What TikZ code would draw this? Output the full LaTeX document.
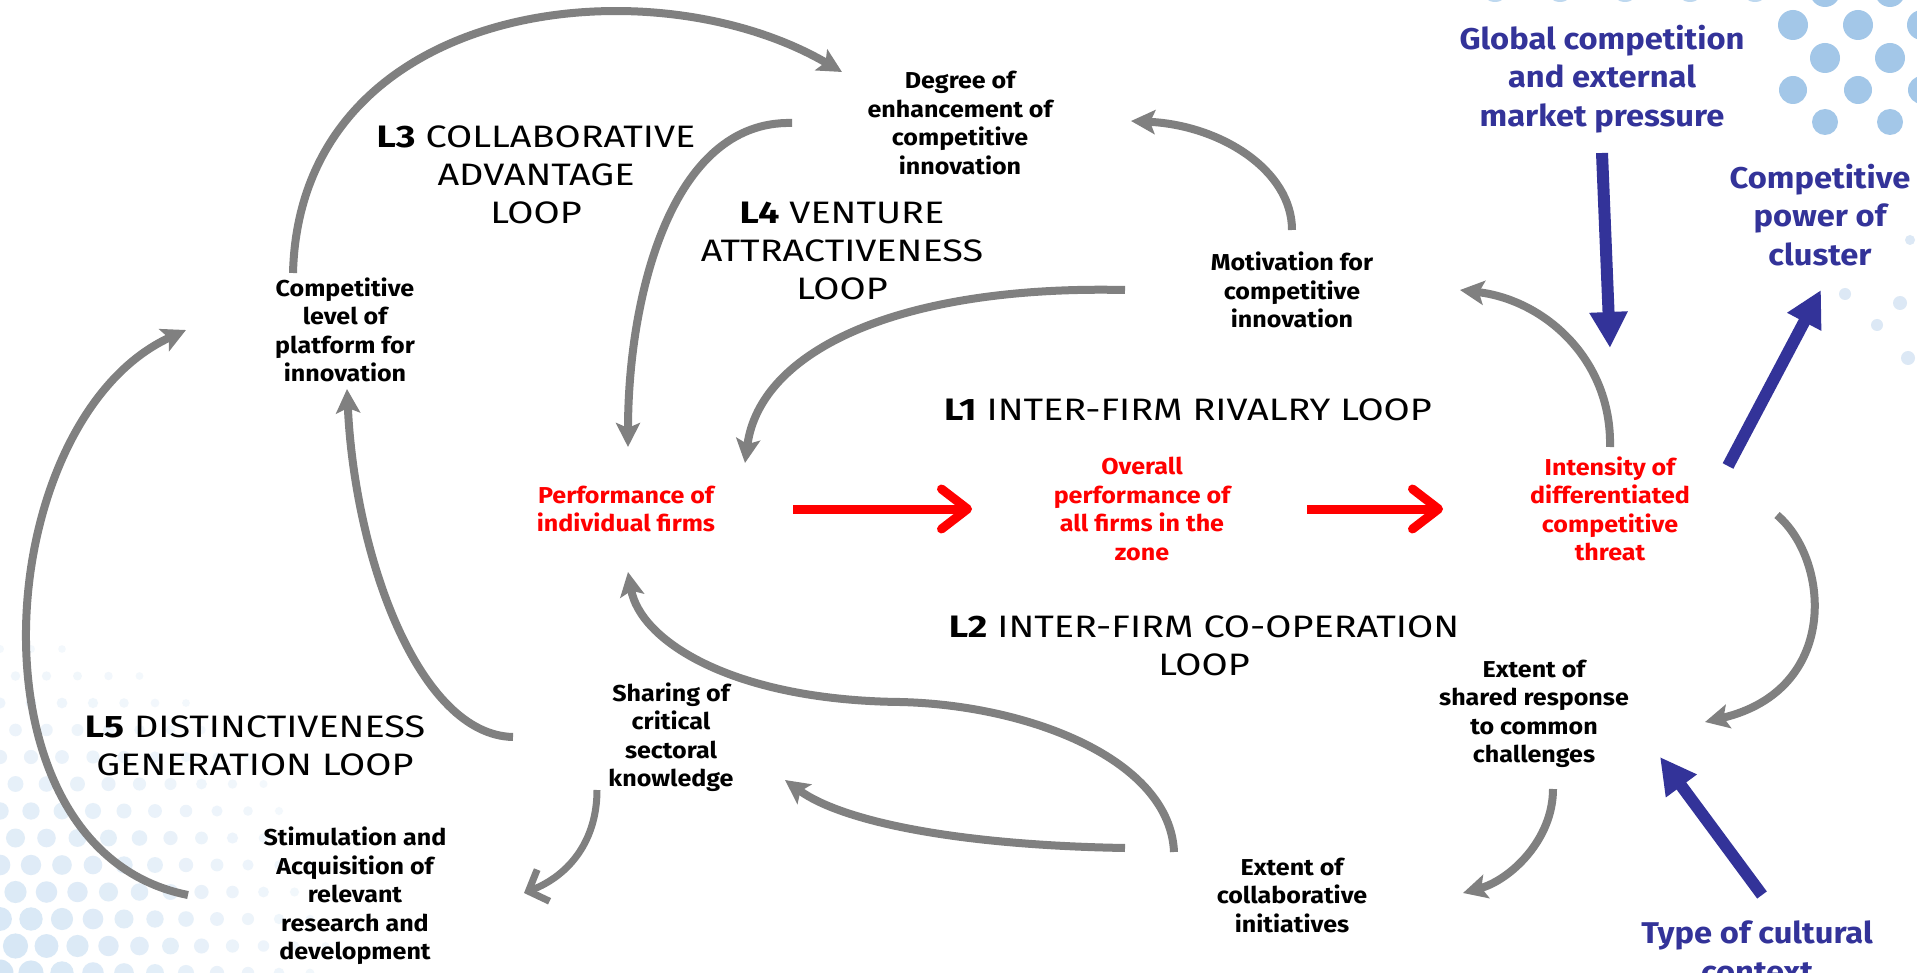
\documentclass[tikz,border=0pt]{standalone}
\usepackage{fontspec}
\setmainfont{Fira Sans}[FakeStretch=1.09]
\newfontfamily\loopfont{Fira Sans}[FakeStretch=1.22]
\usetikzlibrary{arrows.meta,calc}
\definecolor{arrgray}{HTML}{808080}
\definecolor{navy}{HTML}{333399}
\definecolor{dotblue}{HTML}{A3C7E8}
\definecolor{dotpale}{HTML}{DCE8F5}
\begin{document}
\begin{tikzpicture}[x=1pt,y=-1pt,
  var/.style={align=center,font=\fontsize{23}{28.5}\selectfont\bfseries,inner sep=0pt},
  redvar/.style={var,text=red},
  ext/.style={align=center,font=\fontsize{30}{38.5}\selectfont\bfseries,text=navy,inner sep=0pt},
  looplab/.style={align=center,font=\loopfont\fontsize{31}{38}\selectfont,inner sep=0pt},
  link/.style={draw=arrgray,line width=8pt,-{Stealth[length=24pt,width=24pt,inset=5pt]}},
  barblink/.style={draw=arrgray,line width=7pt,-{Straight Barb[length=16pt,width=34pt]}},
  redlink/.style={draw=red,line width=9pt,-{Straight Barb[length=26pt,width=40pt,round]}},
  navylink/.style={draw=navy,line width=12pt,-{Triangle[length=36pt,width=36pt]}},
]
\useasboundingbox (0,0) rectangle (1917,973);
\fill[white] (0,0) rectangle (1917,973);
% background dots
\begin{scope}
\clip (1777,0) rectangle (1917,137);
\foreach \x/\y/\r in {1825/-8/15,1890/-8/15,1793/25/15,1858/25/15,1922/25/15,
  1825/58/15,1890/58/15,1793/90/14,1858/90/14,1922/90/14,1825/122/13,1890/122/13}
  \fill[dotblue] (\x,\y) circle (\r pt);
\end{scope}
\foreach \x in {1495,1560,1625,1690,1755}
  \fill[dotblue!70!white] (\x,-12) circle (14pt);
\foreach \x/\y/\r in {1845/294/6,1900/303/7,1877/325/6,1908/358/7,1910/240/5}
  \fill[dotpale] (\x,\y) circle (\r pt);
\foreach \i in {0,...,12}{
  \foreach \j in {0,...,13}{
    \pgfmathsetmacro\xx{\i*31+mod(\j,2)*15.5}
    \pgfmathsetmacro\yy{973-\j*27}
    \pgfmathsetmacro\dd{veclen(\xx,\j*27)}
    \ifdim\dd pt<330pt
      \pgfmathsetmacro\rr{3.5+10*(1-\dd/340)}
      \pgfmathtruncatemacro\pp{12+35*(1-\dd/340)}
      \fill[dotblue!\pp!white] (\xx,\yy) circle (\rr pt);
    \fi
  }
}
% variables
\node[var] (deg) at (960,123) {Degree of\\enhancement of\\competitive\\innovation};
\node[var] (mot) at (1292,290) {Motivation for\\competitive\\innovation};
\node[var] (plat) at (345,330) {Competitive\\level of\\platform for\\innovation};
\node[redvar] (perf) at (626,509) {Performance of\\individual firms};
\node[redvar] (overall) at (1142,509) {Overall\\performance of\\all firms in the\\zone};
\node[redvar] (inten) at (1610,509) {Intensity of\\differentiated\\competitive\\threat};
\node[var] (shared) at (1534,714) {Extent of\\shared response\\to common\\challenges};
\node[var] (collab) at (1292,895) {Extent of\\collaborative\\initiatives};
\node[var] (share) at (671,737) {Sharing of\\critical\\sectoral\\knowledge};
\node[var] (stim) at (355,896) {Stimulation and\\Acquisition of\\relevant\\research and\\development};
% external factors
\node[ext] (glob) at (1602,79) {Global competition\\and external\\market pressure};
\node[ext] (power) at (1820,215) {Competitive\\power of\\cluster};
\node[ext] (cult) at (1757,952) {Type of cultural\\context};
% loop labels
\node[looplab] (l3) at (536,175) {{\bfseries L3} COLLABORATIVE\\ADVANTAGE\\LOOP};
\node[looplab] (l4) at (842,251) {{\bfseries L4} VENTURE\\ATTRACTIVENESS\\LOOP};
\node[looplab] (l1) at (1188,410) {{\bfseries L1} INTER-FIRM RIVALRY LOOP};
\node[looplab] (l2) at (1204,646) {{\bfseries L2} INTER-FIRM CO-OPERATION\\LOOP};
\node[looplab] (l5) at (255,746) {{\bfseries L5} DISTINCTIVENESS\\GENERATION LOOP};
\coordinate (jmid) at (900,702);
% gray causal links
\draw[link] ($(plat)+(-52,-57)$) .. controls (300,0) and (650,-40) .. ($(deg)+(-118,-51)$);
\draw[link] ($(deg)+(-168,0)$) .. controls (670,120) and (628,300) .. ($(perf)+(2,-62)$);
\draw[link] ($(mot)+(-167,0)$) .. controls (900,285) and (760,350) .. ($(perf)+(119,-46)$);
\draw[link] ($(inten)+(0,-62)$) .. controls (1612,360) and (1545,300) .. ($(mot)+(168,0)$);
\draw[link] ($(mot)+(0,-60)$) .. controls (1292,170) and (1220,125) .. ($(deg)+(171,-2)$);
\draw[link] ($(share)+(-158,0)$) .. controls (420,735) and (355,560) .. ($(plat)+(2,59)$);
\draw[link] ($(stim)+(-167,-1)$) .. controls (-40,850) and (-10,420) .. ($(plat)+(-159,0)$);
\draw[barblink] ($(share)+(-74,53)$) .. controls (597,840) and (570,875) .. ($(stim)+(169,-3)$);
\draw[link] ($(collab)+(-167,-47)$) .. controls (950,845) and (840,820) .. ($(share)+(114,43)$);
\draw[link] ($(collab)+(-118,-43)$) .. controls (1170,760) and (1030,705) .. (jmid) .. controls (730,700) and (640,640) .. ($(perf)+(2,63)$);
\draw[link] ($(inten)+(167,6)$) .. controls (1830,560) and (1840,690) .. ($(shared)+(171,8)$);
\draw[link] ($(shared)+(19,75)$) .. controls (1553,840) and (1510,880) .. ($(collab)+(171,-2)$);
% red links
\draw[redlink] ($(perf)+(167,0)$) -- ($(overall)+(-170,0)$);
\draw[redlink] ($(overall)+(165,0)$) -- ($(inten)+(-167,0)$);
% navy links
\draw[navylink] ($(glob)+(0,74)$) -- ($(inten)+(0,-161)$);
\draw[navylink] ($(inten)+(118,-43)$) -- ($(power)+(1,75)$);
\draw[navylink] ($(cult)+(5,-57)$) -- ($(shared)+(126,43)$);
\end{tikzpicture}
\end{document}
